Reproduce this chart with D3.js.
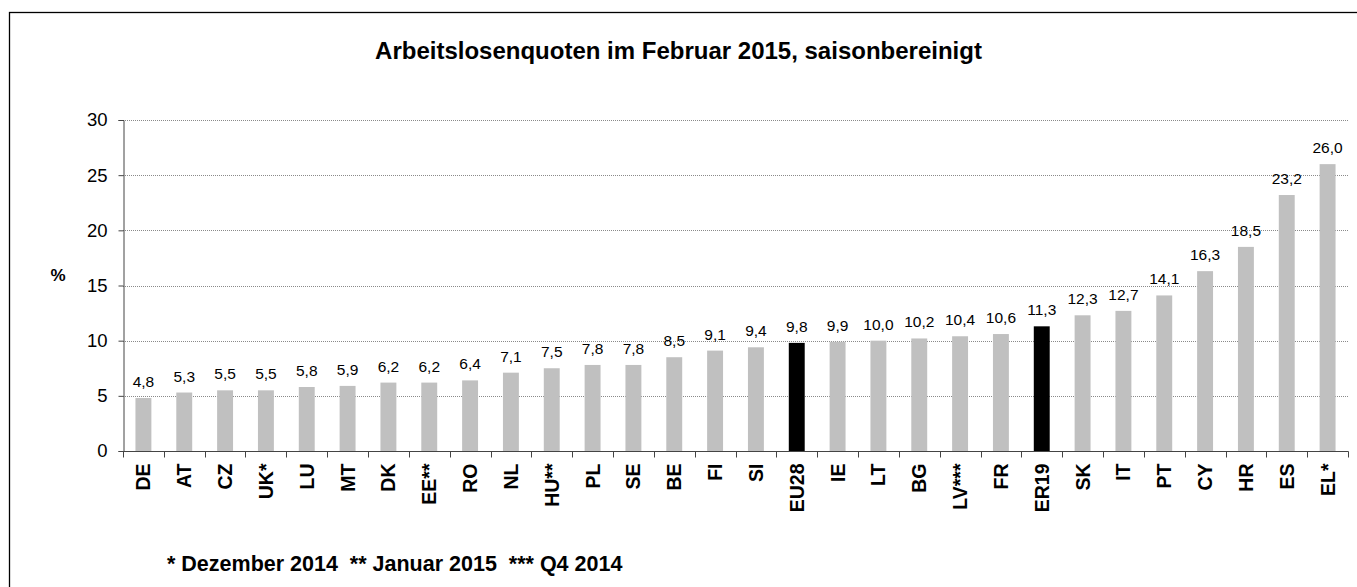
<!DOCTYPE html>
<html><head><meta charset="utf-8">
<script src="https://cdn.jsdelivr.net/npm/d3@7"></script>
<style>
html,body{margin:0;padding:0;background:#fff;}
svg{display:block;font-family:"Liberation Sans",Arial,sans-serif;}
</style></head>
<body>
<svg id="c" width="1357" height="587"></svg>
<script>
const categories = ["DE","AT","CZ","UK*","LU","MT","DK","EE**","RO","NL","HU**","PL","SE","BE","FI","SI","EU28","IE","LT","BG","LV***","FR","ER19","SK","IT","PT","CY","HR","ES","EL*"];
const values = [4.8,5.3,5.5,5.5,5.8,5.9,6.2,6.2,6.4,7.1,7.5,7.8,7.8,8.5,9.1,9.4,9.8,9.9,10.0,10.2,10.4,10.6,11.3,12.3,12.7,14.1,16.3,18.5,23.2,26.0];
const highlighted = ["EU28","ER19"];
const yTicks = [0,5,10,15,20,25,30];
const title = "Arbeitslosenquoten im Februar 2015, saisonbereinigt";
const yLabel = "%";
const footnote = "* Dezember 2014  ** Januar 2015  *** Q4 2014";

const svg = d3.select("#c");
const pL = 123, pR = 1348, pT = 120, pB = 451;

svg.append("rect").attr("x",9.5).attr("y",12.5).attr("width",1400).attr("height",700)
  .attr("fill","none").attr("stroke","#000").attr("stroke-width",1.3);

const x = d3.scaleBand().domain(categories).range([pL,pR]).paddingInner(0.61).paddingOuter(0.305);
const y = d3.scaleLinear().domain([0,30]).range([pB,pT]);
const locale = d3.formatLocale({decimal:",",thousands:".",grouping:[3],currency:["","€"]});
const fmt = locale.format(".1f");

// gridlines
svg.append("g").selectAll("line").data(yTicks.filter(t=>t>0)).join("line")
  .attr("x1",pL).attr("x2",pR).attr("y1",d=>Math.round(y(d))+0.5).attr("y2",d=>Math.round(y(d))+0.5)
  .attr("stroke","#8a8a8a").attr("stroke-width",1).attr("stroke-dasharray","1,1");

// bars
const data = categories.map((c,i)=>({c,v:values[i]}));
svg.append("g").selectAll("rect").data(data).join("rect")
  .attr("x",d=>x(d.c)).attr("width",x.bandwidth())
  .attr("y",d=>y(d.v)).attr("height",d=>y(0)-y(d.v))
  .attr("fill",d=>highlighted.includes(d.c)?"#000":"#c0c0c0");

// value labels
svg.append("g").selectAll("text").data(data).join("text")
  .attr("x",d=>x(d.c)+x.bandwidth()/2).attr("y",d=>y(d.v)-11)
  .attr("text-anchor","middle").attr("font-size",15.5).attr("fill","#000")
  .text(d=>fmt(d.v));

// y axis
const yAxis = svg.append("g").attr("transform",`translate(${pL+0.5},0)`)
  .call(d3.axisLeft(y).tickValues(yTicks).tickSize(5).tickPadding(11).tickFormat(d3.format("d")));
yAxis.select(".domain").attr("stroke","#444");
yAxis.selectAll(".tick line").attr("stroke","#444");
yAxis.selectAll("text").attr("font-size",18.5).attr("fill","#000").attr("font-family","Liberation Sans, Arial, sans-serif");

// x axis
const xAxisG = svg.append("g").attr("transform",`translate(0,${pB+0.5})`);
xAxisG.append("line").attr("x1",pL).attr("x2",pR+0.5).attr("stroke","#444");
const bounds = categories.map(c=>x(c)-x.step()*x.paddingInner()/2).concat([pR]);
xAxisG.selectAll("line.t").data(bounds).join("line").attr("class","t")
  .attr("x1",d=>Math.round(d)+0.5).attr("x2",d=>Math.round(d)+0.5).attr("y1",0).attr("y2",6).attr("stroke","#444");
xAxisG.selectAll("text").data(categories).join("text")
  .attr("transform",d=>`translate(${x(d)+x.bandwidth()/2+7},12) rotate(-90)`)
  .attr("text-anchor","end").attr("font-size",19.5).attr("font-weight","bold").attr("fill","#000")
  .text(d=>d);

// title
svg.append("text").attr("x",678.5).attr("y",59).attr("text-anchor","middle")
  .attr("font-size",24).attr("font-weight","bold").text(title);
// y label
svg.append("text").attr("x",58).attr("y",281).attr("text-anchor","middle")
  .attr("font-size",17).attr("font-weight","bold").text(yLabel);
// footnote
svg.append("text").attr("x",167).attr("y",571).attr("xml:space","preserve").style("white-space","pre")
  .attr("font-size",21.5).attr("font-weight","bold").text(footnote);
</script>
</body></html>
